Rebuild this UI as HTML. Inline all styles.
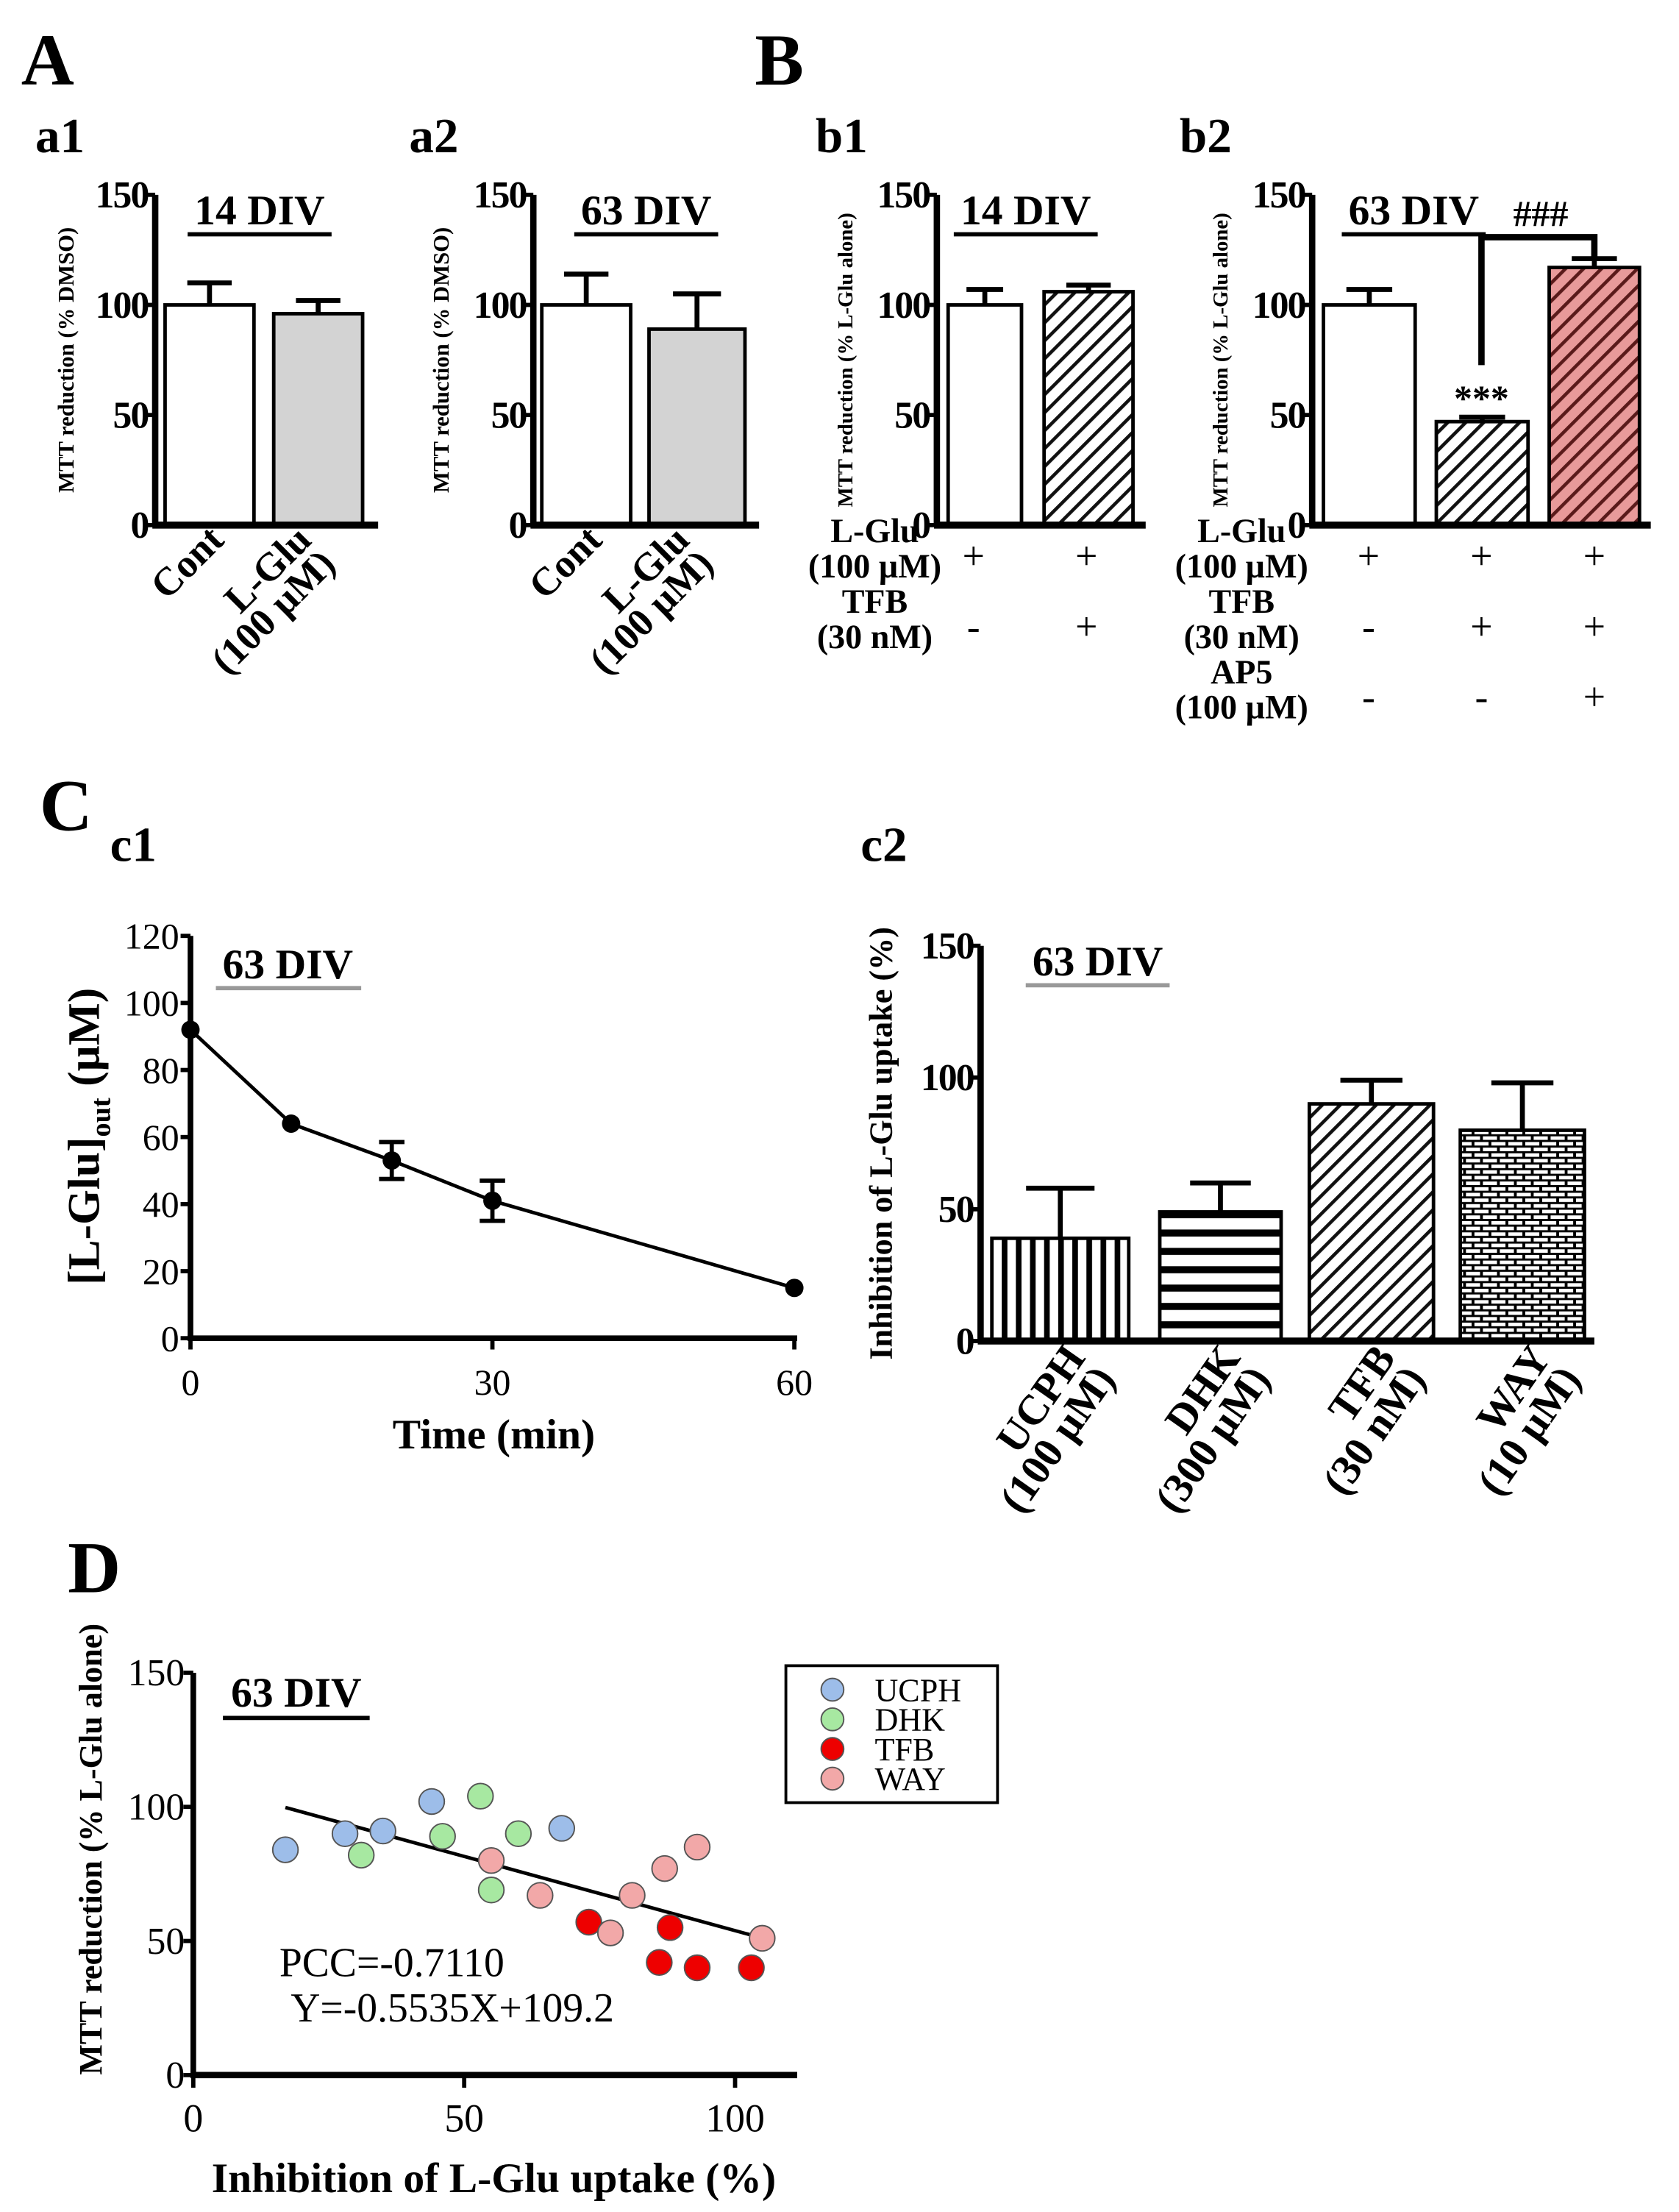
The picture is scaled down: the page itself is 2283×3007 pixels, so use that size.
<!DOCTYPE html>
<html><head><meta charset="utf-8"><style>
html,body{margin:0;padding:0;background:#fff;}
svg{display:block;}
text{font-family:"Liberation Serif",serif;fill:#000;}
</style></head><body>
<svg id="fig" xmlns="http://www.w3.org/2000/svg" width="2283" height="3007" viewBox="0 0 1190 1567" preserveAspectRatio="none">
<defs>
<pattern id="diag" patternUnits="userSpaceOnUse" width="9" height="9" patternTransform="rotate(45)"><rect width="9" height="9" fill="#fff"/><rect x="0" width="2.4" height="9" fill="#111"/></pattern>
<pattern id="diagred" patternUnits="userSpaceOnUse" width="9" height="9" patternTransform="rotate(45)"><rect width="9" height="9" fill="#e89a9a"/><rect x="0" width="2.4" height="9" fill="#5a1a1a"/></pattern>
<pattern id="vert" patternUnits="userSpaceOnUse" width="10" height="10"><rect width="10" height="10" fill="#fff"/><rect x="0" width="4" height="10" fill="#000"/></pattern>
<pattern id="horz" patternUnits="userSpaceOnUse" width="10" height="13"><rect width="10" height="13" fill="#fff"/><rect y="0" width="10" height="5" fill="#000"/></pattern>
<pattern id="brick" patternUnits="userSpaceOnUse" width="12" height="8"><rect width="12" height="8" fill="#000"/><rect x="1" y="1" width="10" height="2.5" fill="#fff"/><rect x="0" y="5" width="5" height="2.5" fill="#fff"/><rect x="7" y="5" width="5" height="2.5" fill="#fff"/></pattern>
</defs>
<g id="root"></g>
</svg>
<script>
// a1
const a1Cats = ["Cont", "L-Glu|(100 µM)"];
const a1Vals = [100, 96];
const a1Errs = [110, 102];
// a2
const a2Cats = ["Cont", "L-Glu|(100 µM)"];
const a2Vals = [100, 89];
const a2Errs = [114, 105];
// b1
const b1Vals = [100, 106];
const b1Errs = [107, 109];
// b2
const b2Vals = [100, 47];
const b2ValsAP5 = [117];
const b2Errs = [107, 49, 121];
// c1
const c1Times = [0, 10, 20, 30, 60];
const c1Conc = [92, 64, 53, 41, 15];
const c1Err = [0, 0, 5.5, 6, 0];
const c1YTicks = [0, 20, 40, 60, 80, 100, 120];
const c1XTicks = [0, 30, 60];
// c2
const c2Cats = ["UCPH|(100 µM)", "DHK|(300 µM)", "TFB|(30 nM)", "WAY|(10 µM)"];
const c2Vals = [39, 49, 90, 80];
const c2Errs = [58, 60, 99, 98];
// D
const dGroups = ["UCPH", "DHK", "TFB", "WAY"];
const dUcphX = [17, 28, 35, 44, 68];
const dUcphY = [84, 90, 91, 102, 92];
const dDhkX = [31, 46, 53, 55, 60];
const dDhkY = [82, 89, 104, 69, 90];
const dTfbX = [73, 86, 88, 93, 103];
const dTfbY = [57, 42, 55, 40, 40];
const dWayX = [55, 64, 77, 81, 87, 93, 105];
const dWayY = [80, 67, 53, 67, 77, 85, 51];
const dSlope = -0.5535;
const dIntercept = 109.2;
const dTicks = [0, 50, 100];

const NS = "http://www.w3.org/2000/svg";
const root = document.getElementById("root");
function el(tag, attrs, parent) {
  const e = document.createElementNS(NS, tag);
  for (const k in attrs) e.setAttribute(k, attrs[k]);
  (parent || root).appendChild(e);
  return e;
}
function txt(s, x, y, size, anchor, parent, extra) {
  const t = el("text", Object.assign({x: x, y: y, "font-size": size, "text-anchor": anchor || "start", "font-weight": "bold"}, extra || {}), parent);
  t.textContent = s;
  return t;
}

[["A",15,60],["B",535,60],["C",28,588],["D",48,1128]].forEach(p => {
  const t = txt(p[0], p[1], p[2], 52);
  
  
});
[["a1",25,108],["a2",290,108],["b1",578,108],["b2",836,108],["c1",78,610],["c2",610,610]].forEach(p => {
  const t = txt(p[0], p[1], p[2], 35);
  
  
});

function barPanel(name, axX, axY0, axYTop, xEnd, maxV, ticks, bars, title, titleCx, ylabel, ylabX, ylabSize) {
  const g = el("g", {});
  
  
  const sy = v => axY0 - (v / maxV) * (axY0 - axYTop);
  bars.forEach((b, i) => {
    const r = el("rect", {x: b.x0, y: sy(b.v), width: b.x1 - b.x0, height: axY0 - sy(b.v), fill: b.fill, stroke: "#000", "stroke-width": 2.5}, g);
    
    
    const cx = (b.x0 + b.x1) / 2, hw = (b.x1 - b.x0) * 0.25;
    const e = el("path", {d: `M${cx} ${sy(b.v)}V${sy(b.e)}M${cx - hw} ${sy(b.e)}H${cx + hw}`, stroke: "#000", "stroke-width": 3.5, fill: "none"}, g);
    
    
  });
  const ya = el("path", {d: `M${axX} ${axYTop}V${axY0}`, stroke: "#000", "stroke-width": 4.5}, g);
  
  
  const xa = el("path", {d: `M${axX - 2} ${axY0}H${xEnd}`, stroke: "#000", "stroke-width": 5}, g);
  
  
  ticks.forEach(t => {
    el("path", {d: `M${axX - 7} ${sy(t)}H${axX}`, stroke: "#000", "stroke-width": 3}, g);
    const l = txt(String(t), axX - 5, sy(t) + 9, 27, "end", g, {"letter-spacing": "-1"});
    
    
  });
  if (title) {
    const t = txt(title, titleCx, axYTop + 21, 30, "middle", g);
    
    
    const w = title.length * 17;
    el("path", {d: `M${titleCx - w / 2} ${axYTop + 28}H${titleCx + w / 2}`, stroke: name === "c2" ? "#999" : "#000", "stroke-width": 3}, g);
  }
  const cy = (axY0 + axYTop) / 2;
  const yl = txt(ylabel, ylabX, cy, ylabSize, "middle", g, {transform: `rotate(-90 ${ylabX} ${cy})`});
  
  
  return {g: g, sy: sy};
}

function rotLabels(g, name, cats, xs, y, angle, size, lh) {
  cats.forEach((c, i) => {
    const parts = c.split("|");
    const t = el("text", {x: 0, y: 0, "font-size": size, "font-weight": "bold", "text-anchor": "end", transform: `translate(${xs[i]} ${y}) rotate(${angle})`}, g);
    
    
    parts.forEach((p, j) => {
      const s = document.createElementNS(NS, "tspan");
      s.setAttribute("x", 0);
      s.setAttribute("dy", j === 0 ? 0 : lh);
      s.textContent = p;
      t.appendChild(s);
    });
  });
}

const a1 = barPanel("a1", 110, 372, 138, 268, 150, [0, 50, 100, 150],
  [{x0: 117, x1: 180, v: a1Vals[0], e: a1Errs[0], fill: "#fff"}, {x0: 194, x1: 257, v: a1Vals[1], e: a1Errs[1], fill: "#d3d3d3"}],
  "14 DIV", 184, "MTT reduction (% DMSO)", 52, 16);
rotLabels(a1.g, "a1", a1Cats, [160, 222], 384, -45, 28, 24);
const a2 = barPanel("a2", 378, 372, 138, 538, 150, [0, 50, 100, 150],
  [{x0: 384, x1: 447, v: a2Vals[0], e: a2Errs[0], fill: "#fff"}, {x0: 460, x1: 528, v: a2Vals[1], e: a2Errs[1], fill: "#d3d3d3"}],
  "63 DIV", 458, "MTT reduction (% DMSO)", 318, 16);
rotLabels(a2.g, "a2", a2Cats, [428, 490], 384, -45, 28, 24);
const b1 = barPanel("b1", 664, 372, 138, 812, 150, [0, 50, 100, 150],
  [{x0: 672, x1: 724, v: b1Vals[0], e: b1Errs[0], fill: "#fff"}, {x0: 740, x1: 803, v: b1Vals[1], e: b1Errs[1], fill: "url(#diag)"}],
  "14 DIV", 727, "MTT reduction (% L-Glu alone)", 604, 15);
const b2 = barPanel("b2", 930, 372, 138, 1170, 150, [0, 50, 100, 150],
  [{x0: 938, x1: 1003, v: b2Vals[0], e: b2Errs[0], fill: "#fff"}, {x0: 1018, x1: 1083, v: b2Vals[1], e: b2Errs[1], fill: "url(#diag)"}, {x0: 1098, x1: 1162, v: b2ValsAP5[0], e: b2Errs[2], fill: "url(#diagred)"}],
  "63 DIV", 1002, "MTT reduction (% L-Glu alone)", 870, 15);
{
  const br = el("path", {d: `M1050 ${b2.sy(b2Vals[1]) - 40}V168H1130V182`, stroke: "#000", "stroke-width": 4.5, fill: "none"}, b2.g);
  
  
  const h = txt("###", 1092, 160, 26, "middle", b2.g);
  
  
  const s = txt("***", 1050, b2.sy(b2Vals[1]) - 8, 26, "middle", b2.g);
  
  
}
function condRows(g, name, lx, rows, xs) {
  rows.forEach((r) => {
    const l1 = txt(r[0], lx, r[2] - 16, 24, "middle", g);
    
    
    const l2 = txt(r[1], lx, r[2] + 9, 24, "middle", g);
    
    
    r[3].forEach((m, j) => {
      const t = txt(m, xs[j], r[2] + 3, 28, "middle", g, {"font-weight": "normal"});
      
      
    });
  });
}
condRows(b1.g, "b1", 620, [["L-Glu", "(100 µM)", 400, ["+", "+"]], ["TFB", "(30 nM)", 450, ["-", "+"]]], [690, 770]);
condRows(b2.g, "b2", 880, [["L-Glu", "(100 µM)", 400, ["+", "+", "+"]], ["TFB", "(30 nM)", 450, ["-", "+", "+"]], ["AP5", "(100 µM)", 500, ["-", "-", "+"]]], [970, 1050, 1130]);

{
  const g = el("g", {});
  
  
  const x0 = 135, y0 = 948, yTop = 663, xR = 563;
  const sx = v => x0 + v / 60 * (xR - x0);
  const sy = v => y0 - v / 120 * (y0 - yTop);
  const ln = el("polyline", {points: c1Times.map((t, i) => sx(t) + "," + sy(c1Conc[i])).join(" "), fill: "none", stroke: "#000", "stroke-width": 2.5}, g);
  
  
  c1Times.forEach((t, i) => {
    if (c1Err[i] > 0) {
      const e = el("path", {d: `M${sx(t)} ${sy(c1Conc[i] - c1Err[i])}V${sy(c1Conc[i] + c1Err[i])}M${sx(t) - 9} ${sy(c1Conc[i] - c1Err[i])}H${sx(t) + 9}M${sx(t) - 9} ${sy(c1Conc[i] + c1Err[i])}H${sx(t) + 9}`, stroke: "#000", "stroke-width": 3}, g);
      
      
    }
    const c = el("circle", {cx: sx(t), cy: sy(c1Conc[i]), r: 6.5, fill: "#000"}, g);
    
    
  });
  const ya = el("path", {d: `M${x0} ${yTop}V${y0}`, stroke: "#000", "stroke-width": 4}, g);
  
  
  const xa = el("path", {d: `M${x0 - 2} ${y0}H${xR + 2}`, stroke: "#000", "stroke-width": 4}, g);
  
  
  c1YTicks.forEach(v => {
    el("path", {d: `M${x0 - 7} ${sy(v)}H${x0}`, stroke: "#000", "stroke-width": 3}, g);
    const l = txt(String(v), x0 - 8, sy(v) + 9, 26, "end", g, {"font-weight": "normal"});
    
    
  });
  c1XTicks.forEach(v => {
    el("path", {d: `M${sx(v)} ${y0}V${y0 + 8}`, stroke: "#000", "stroke-width": 3}, g);
    const l = txt(String(v), sx(v), y0 + 40, 26, "middle", g, {"font-weight": "normal"});
    
    
  });
  const t = txt("63 DIV", 204, 693, 30, "middle", g);
  
  
  el("path", {d: "M153 700H256", stroke: "#999", "stroke-width": 3}, g);
  const xl = txt("Time (min)", 350, 1026, 30, "middle", g);
  
  
  const yl = el("text", {x: 70, y: 805, "font-size": 32, "font-weight": "bold", "text-anchor": "middle", transform: "rotate(-90 70 805)"}, g);
  
  
  yl.innerHTML = '[L-Glu]<tspan font-size="20" dy="8">out</tspan><tspan dy="-8"> (µM)</tspan>';
}

const c2 = barPanel("c2", 695, 950, 670, 1130, 150, [0, 50, 100, 150],
  [{x0: 703, x1: 800, v: c2Vals[0], e: c2Errs[0], fill: "url(#vert)"}, {x0: 822, x1: 908, v: c2Vals[1], e: c2Errs[1], fill: "url(#horz)"}, {x0: 928, x1: 1016, v: c2Vals[2], e: c2Errs[2], fill: "url(#diag)"}, {x0: 1035, x1: 1123, v: c2Vals[3], e: c2Errs[3], fill: "url(#brick)"}],
  "63 DIV", 778, "Inhibition of L-Glu uptake (%)", 632, 23);
rotLabels(c2.g, "c2", c2Cats, [770, 880, 990, 1100], 962, -55, 30, 26);

{
  const g = el("g", {});
  
  
  const x0 = 137, y0 = 1470, yTop = 1185;
  const sx = v => x0 + v * 3.84;
  const sy = v => y0 - v / 150 * (y0 - yTop);
  const lx1 = 17, lx2 = 104;
  const rl = el("path", {d: `M${sx(lx1)} ${sy(dSlope * lx1 + dIntercept)}L${sx(lx2)} ${sy(dSlope * lx2 + dIntercept)}`, stroke: "#000", "stroke-width": 2.5}, g);
  
  
  const colors = ["#9dbde9", "#a7e8a1", "#ee0000", "#f2a8a8"];
  const sets = [[dUcphX, dUcphY], [dDhkX, dDhkY], [dTfbX, dTfbY], [dWayX, dWayY]];
  sets.forEach((s, gi) => {
    s[0].forEach((xv, i) => {
      const c = el("circle", {cx: sx(xv), cy: sy(s[1][i]), r: 9, fill: colors[gi], stroke: "#555", "stroke-width": 1}, g);
      
      
    });
  });
  const ya = el("path", {d: `M${x0} ${yTop}V${y0}`, stroke: "#000", "stroke-width": 4}, g);
  
  
  const xa = el("path", {d: `M${x0 - 2} ${y0}H565`, stroke: "#000", "stroke-width": 4.5}, g);
  
  
  [0, 50, 100, 150].forEach(v => {
    el("path", {d: `M${x0 - 7} ${sy(v)}H${x0}`, stroke: "#000", "stroke-width": 3}, g);
    const l = txt(String(v), x0 - 6, sy(v) + 9, 27, "end", g, {"font-weight": "normal"});
    
    
  });
  dTicks.forEach(v => {
    el("path", {d: `M${sx(v)} ${y0}V${y0 + 9}`, stroke: "#000", "stroke-width": 3}, g);
    const l = txt(String(v), sx(v), y0 + 40, 28, "middle", g, {"font-weight": "normal"});
    
    
  });
  const t = txt("63 DIV", 210, 1209, 30, "middle", g);
  
  
  el("path", {d: "M158 1217H262", stroke: "#000", "stroke-width": 3}, g);
  const p1 = txt("PCC=-0.7110", 198, 1400, 29, "start", g, {"font-weight": "normal"});
  
  
  const p2 = txt("Y=-0.5535X+109.2", 206, 1432, 29, "start", g, {"font-weight": "normal"});
  
  
  const xl = txt("Inhibition of L-Glu uptake (%)", 350, 1553, 30, "middle", g);
  
  
  const yl = txt("MTT reduction (% L-Glu alone)", 72, 1310, 23, "middle", g, {transform: "rotate(-90 72 1310)"});
  
  
  const lg = el("rect", {x: 557, y: 1180, width: 150, height: 97, fill: "#fff", stroke: "#000", "stroke-width": 2}, g);
  
  
  dGroups.forEach((nm, i) => {
    const yy = 1197 + i * 21;
    const c = el("circle", {cx: 590, cy: yy, r: 8, fill: colors[i], stroke: "#555", "stroke-width": 1}, g);
    
    
    const l = txt(nm, 620, yy + 8, 23, "start", g, {"font-weight": "normal"});
    
    
  });
}
</script>
</body></html>
